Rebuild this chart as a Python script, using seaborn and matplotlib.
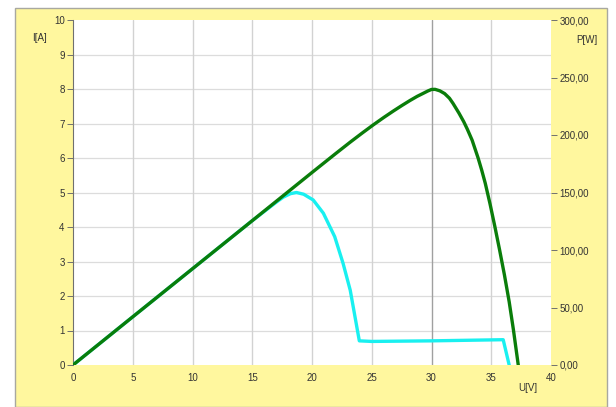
import numpy as np
import pandas as pd
import matplotlib
matplotlib.use("Agg")
import matplotlib.pyplot as plt
from matplotlib.patches import Rectangle
from matplotlib.ticker import FuncFormatter
import seaborn as sns

# P-U curve of the unshaded module (green)
u_full = [0, 5, 10, 15, 20, 22, 23.2, 24.2, 25.1, 26, 26.8, 27.5, 28.2, 28.8,
          29.3, 29.7, 30.0, 30.3, 30.7, 31.1, 31.5, 31.8, 32.3, 32.7, 33.0,
          33.4, 33.9, 34.2, 34.5, 34.9, 35.3, 35.7, 36.1, 36.5, 36.85, 37.26]
p_full = [0, 41.9, 83.7, 125.5, 167.4, 184, 193.8, 201.7, 208.6, 215.2,
          220.8, 225.5, 230, 233.6, 236.2, 238.3, 239.6, 239.7, 238.4, 236,
          232, 227.5, 219, 211.5, 205, 195.5, 180, 169.5, 158, 140, 120.5,
          100, 78.5, 55, 31, 0]

# P-U curve of the partially shaded module (cyan)
u_shade = [0, 5, 10, 15, 17.0, 17.6, 18.2, 18.7, 19.3, 20.1, 20.95, 21.9,
           22.6, 23.2, 23.96, 25, 30, 36.0, 36.5]
p_shade = [0, 41.9, 83.7, 125.5, 141.5, 146, 149, 150, 148.5, 143.5, 132,
           111.6, 88.4, 65, 21, 20.5, 21, 22, 0]

x_ticks = [0, 5, 10, 15, 20, 25, 30, 35, 40]
i_ticks = list(range(0, 11))
p_ticks = [0, 50, 100, 150, 200, 250, 300]

sns.set_theme(style="white")
plt.rcParams["font.family"] = ["Liberation Sans", "DejaVu Sans"]

fig = plt.figure(figsize=(6.16, 4.07), dpi=100)
fig.patch.set_facecolor("white")
W, H = 616, 407
fig.patches.append(Rectangle((15 / W, 0), (607 - 15) / W, (407 - 8) / H,
                             transform=fig.transFigure, facecolor="#fff79e",
                             edgecolor="#a8a8a0", linewidth=1.0, zorder=-10))

ax = fig.add_axes([73 / W, (H - 365) / H, (551 - 73) / W, (365 - 20) / H])
ax.set_facecolor("white")
ax2 = ax.twinx()

df_shade = pd.DataFrame({"U": u_shade, "P": p_shade})
df_full = pd.DataFrame({"U": u_full, "P": p_full})
sns.lineplot(data=df_shade, x="U", y="P", ax=ax2, color="#19f0f0",
             linewidth=2.4, sort=False, estimator=None, zorder=3)
sns.lineplot(data=df_full, x="U", y="P", ax=ax2, color="#0a7d0a",
             linewidth=2.4, sort=False, estimator=None, zorder=4)
for ln in ax2.get_lines():
    ln.set_solid_joinstyle("round")
    ln.set_solid_capstyle("round")

ax.set_xlim(0, 40)
ax.set_ylim(0, 10)
ax2.set_ylim(0, 300)
ax.set_xticks(x_ticks)
ax.set_yticks(i_ticks)
ax2.set_yticks(p_ticks)
ax2.yaxis.set_major_formatter(FuncFormatter(lambda v, _: f"{v:.2f}".replace(".", ",")))

# grid
for y in i_ticks[1:-1]:
    ax.axhline(y, color="#dcdcdc", linewidth=0.9, zorder=0)
for x in x_ticks[1:-1]:
    ax.axvline(x, color="#a0a0a0" if x == 30 else "#d2d2d2",
               linewidth=1.0, zorder=0)

for a in (ax, ax2):
    for s in ("top", "bottom", "right"):
        a.spines[s].set_visible(False)
ax2.spines["left"].set_visible(False)
ax.spines["left"].set_color("#707070")
ax.spines["left"].set_linewidth(0.8)

ax.tick_params(axis="y", left=True, length=4, width=0.7, color="#707070",
               labelsize=7, labelcolor="#333333", pad=2)
ax.tick_params(axis="x", bottom=False, length=0, labelsize=7,
               labelcolor="#333333", pad=6)
ax2.tick_params(axis="y", right=True, length=4, width=0.7, color="#707070",
                labelsize=7, labelcolor="#333333", pad=2)
ax.set_xlabel("")
ax.set_ylabel("")
ax2.set_xlabel("")
ax2.set_ylabel("")

fig.text(40 / W, 1 - 38 / H, "I[A]", fontsize=7, color="#333333",
         ha="center", va="center")
fig.text(587 / W, 1 - 40 / H, "P[W]", fontsize=7, color="#333333",
         ha="center", va="center")
fig.text(528 / W, 1 - 388 / H, "U[V]", fontsize=7, color="#333333",
         ha="center", va="center")

fig.savefig("out.png", dpi=100)
